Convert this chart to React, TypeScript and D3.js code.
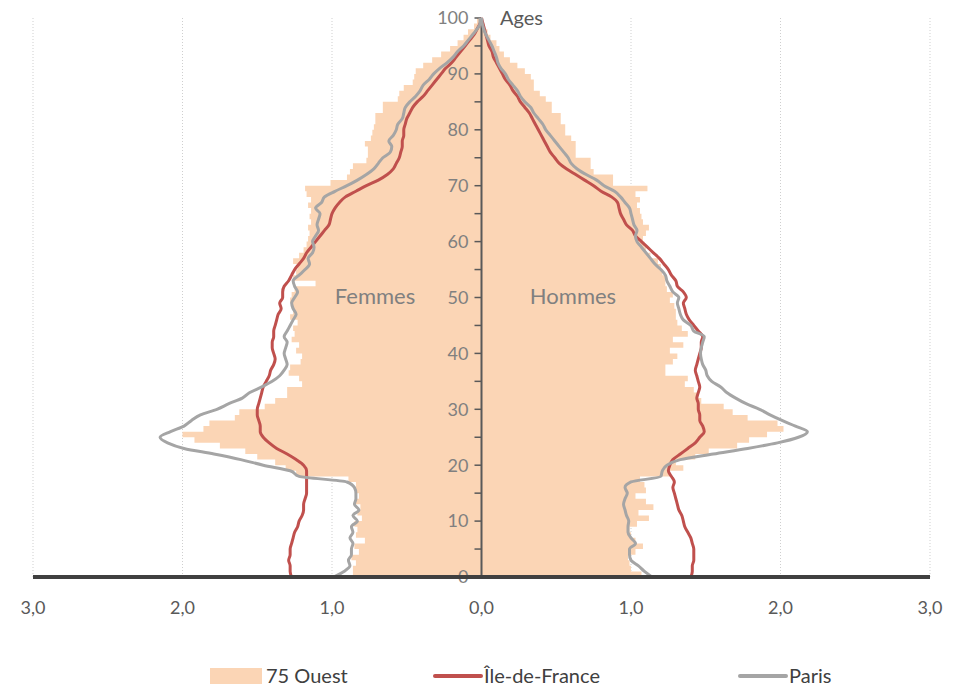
import React, { useEffect, useRef } from 'react';
import * as d3 from 'd3';

// Ages 0..100, one value per year (in % of population)
const ages = d3.range(0, 101);
const xTicks = [-3, -2, -1, 0, 1, 2, 3];
const yTicks = [0, 10, 20, 30, 40, 50, 60, 70, 80, 90, 100];
const yMinorTicks = [5, 15, 25, 35, 45, 55, 65, 75, 85, 95];

const femmes75 = [
  0.86, 0.86, 0.84, 0.87, 0.82, 0.85, 0.78, 0.84, 0.83, 0.85,
  0.80, 0.83, 0.81, 0.84, 0.82, 0.84, 0.84, 0.89, 1.24, 1.31,
  1.38, 1.50, 1.58, 1.75, 1.92, 2.00, 1.86, 1.82, 1.65, 1.62,
  1.45, 1.38, 1.30, 1.30, 1.20, 1.22, 1.29, 1.28, 1.21, 1.20,
  1.24, 1.22, 1.27, 1.25, 1.26, 1.23, 1.28, 1.26, 1.27, 1.28,
  1.27, 1.25, 1.11, 1.26, 1.24, 1.23, 1.26, 1.22, 1.19, 1.17,
  1.16, 1.15, 1.16, 1.14, 1.15, 1.14, 1.16, 1.14, 1.17, 1.18,
  1.01, 0.90, 0.88, 0.86, 0.77, 0.76, 0.76, 0.78, 0.74, 0.73,
  0.72, 0.71, 0.71, 0.66, 0.66, 0.56, 0.55, 0.52, 0.46, 0.45,
  0.44, 0.39, 0.33, 0.27, 0.21, 0.16, 0.12, 0.09, 0.05, 0.03,
  0.02,
];

const hommes75 = [
  1.07, 1.00, 0.99, 0.98, 1.03, 1.08, 1.03, 1.00, 0.99, 1.04,
  1.12, 1.05, 1.15, 1.10, 1.03, 1.10, 1.09, 1.06, 1.26, 1.35,
  1.30, 1.43, 1.52, 1.71, 1.79, 1.91, 2.02, 1.98, 1.78, 1.68,
  1.62, 1.47, 1.45, 1.42, 1.36, 1.38, 1.23, 1.23, 1.28, 1.31,
  1.26, 1.35, 1.28, 1.38, 1.34, 1.31, 1.30, 1.30, 1.29, 1.26,
  1.28, 1.24, 1.23, 1.23, 1.21, 1.20, 1.18, 1.13, 1.10, 1.09,
  1.08, 1.10, 1.12, 1.08, 1.07, 1.06, 1.04, 1.06, 1.03, 1.11,
  0.88, 0.88, 0.75, 0.73, 0.73, 0.63, 0.63, 0.63, 0.60, 0.56,
  0.56, 0.53, 0.53, 0.47, 0.47, 0.43, 0.39, 0.35, 0.35, 0.33,
  0.29, 0.24, 0.19, 0.15, 0.12, 0.10, 0.06, 0.04, 0.02, 0.01,
  0.01,
];

const femmesIdf = [
  1.27, 1.28, 1.28, 1.29, 1.28, 1.28, 1.27, 1.26, 1.25, 1.23,
  1.22, 1.20, 1.19, 1.19, 1.18, 1.17, 1.17, 1.17, 1.17, 1.17,
  1.19, 1.24, 1.30, 1.37, 1.42, 1.46, 1.48, 1.48, 1.49, 1.50,
  1.50, 1.49, 1.48, 1.47, 1.46, 1.44, 1.42, 1.41, 1.39, 1.38,
  1.39, 1.40, 1.40, 1.39, 1.39, 1.38, 1.37, 1.36, 1.34, 1.35,
  1.33, 1.33, 1.32, 1.29, 1.27, 1.25, 1.22, 1.19, 1.17, 1.14,
  1.11, 1.08, 1.05, 1.02, 1.01, 1.00, 0.98, 0.95, 0.91, 0.84,
  0.77, 0.69, 0.63, 0.59, 0.57, 0.55, 0.54, 0.53, 0.53, 0.52,
  0.52, 0.51, 0.50, 0.48, 0.46, 0.43, 0.39, 0.36, 0.33, 0.30,
  0.27, 0.24, 0.20, 0.17, 0.14, 0.11, 0.08, 0.05, 0.03, 0.01,
  0.00,
];

const hommesIdf = [
  1.40, 1.41, 1.41, 1.42, 1.42, 1.42, 1.41, 1.40, 1.38, 1.36,
  1.35, 1.34, 1.32, 1.31, 1.30, 1.29, 1.28, 1.29, 1.27, 1.25,
  1.26, 1.28, 1.33, 1.38, 1.43, 1.46, 1.49, 1.48, 1.46, 1.46,
  1.45, 1.45, 1.44, 1.45, 1.46, 1.45, 1.44, 1.43, 1.44, 1.45,
  1.46, 1.47, 1.47, 1.48, 1.45, 1.42, 1.39, 1.37, 1.36, 1.35,
  1.37, 1.35, 1.31, 1.30, 1.27, 1.25, 1.22, 1.19, 1.15, 1.11,
  1.07, 1.03, 1.01, 0.97, 0.95, 0.93, 0.92, 0.91, 0.87, 0.80,
  0.75, 0.69, 0.63, 0.57, 0.52, 0.49, 0.46, 0.44, 0.42, 0.40,
  0.38, 0.36, 0.34, 0.32, 0.29, 0.26, 0.24, 0.21, 0.19, 0.16,
  0.14, 0.12, 0.10, 0.08, 0.07, 0.05, 0.04, 0.03, 0.02, 0.01,
  0.00,
];

const femmesParis = [
  0.99, 0.92, 0.88, 0.89, 0.87, 0.87, 0.86, 0.88, 0.86, 0.87,
  0.83, 0.86, 0.82, 0.85, 0.84, 0.84, 0.85, 0.90, 1.22, 1.28,
  1.46, 1.61, 1.79, 1.99, 2.10, 2.15, 2.08, 1.99, 1.94, 1.88,
  1.77, 1.69, 1.60, 1.55, 1.47, 1.40, 1.35, 1.32, 1.30, 1.31,
  1.32, 1.31, 1.30, 1.32, 1.30, 1.28, 1.26, 1.24, 1.26, 1.27,
  1.25, 1.23, 1.25, 1.26, 1.22, 1.18, 1.15, 1.16, 1.13, 1.12,
  1.13, 1.11, 1.09, 1.10, 1.09, 1.08, 1.11, 1.07, 1.05, 0.98,
  0.90, 0.83, 0.77, 0.72, 0.69, 0.66, 0.61, 0.60, 0.62, 0.59,
  0.57, 0.56, 0.53, 0.52, 0.51, 0.48, 0.44, 0.41, 0.39, 0.35,
  0.32, 0.28, 0.23, 0.19, 0.16, 0.12, 0.09, 0.06, 0.03, 0.01,
  0.01,
];

const hommesParis = [
  1.14, 1.09, 1.05, 1.00, 0.99, 0.99, 1.03, 1.00, 0.98, 0.98,
  0.985, 0.97, 0.96, 0.95, 0.96, 0.975, 0.96, 1.00, 1.20, 1.21,
  1.24, 1.33, 1.55, 1.78, 1.98, 2.12, 2.18, 2.10, 2.01, 1.93,
  1.86, 1.77, 1.70, 1.64, 1.60, 1.54, 1.51, 1.50, 1.48, 1.47,
  1.465, 1.47, 1.48, 1.49, 1.42, 1.40, 1.35, 1.33, 1.32, 1.31,
  1.32, 1.28, 1.26, 1.24, 1.23, 1.20, 1.16, 1.13, 1.10, 1.07,
  1.04, 1.03, 1.04, 1.02, 1.01, 1.00, 0.99, 0.96, 0.93, 0.89,
  0.82, 0.77, 0.70, 0.64, 0.60, 0.58, 0.55, 0.52, 0.49, 0.46,
  0.43, 0.41, 0.38, 0.35, 0.33, 0.29, 0.26, 0.24, 0.21, 0.18,
  0.16, 0.13, 0.11, 0.10, 0.085, 0.07, 0.05, 0.03, 0.015, 0.005,
  0.00,
];

const legendItems = ['75 Ouest', 'Île-de-France', 'Paris'];

const FONT = 'Lato, "Open Sans", sans-serif';
const BAR_COLOR = '#FBD5B5';
const IDF_COLOR = '#C0504D';
const PARIS_COLOR = '#A5A5A5';

const PopulationPyramid: React.FC = () => {
  const svgRef = useRef<SVGSVGElement>(null);

  useEffect(() => {
    if (!svgRef.current) return;
    const svg = d3.select(svgRef.current);
    svg.selectAll('*').remove();

    const x = d3.scaleLinear().domain([-3, 3]).range([33, 930]);
    const y = d3.scaleLinear().domain([0, 100]).range([577, 18]);

    // Vertical dotted gridlines
    svg.append('g')
      .selectAll('line')
      .data(xTicks.filter(t => t !== 0))
      .enter()
      .append('line')
      .attr('x1', d => x(d))
      .attr('x2', d => x(d))
      .attr('y1', y(100))
      .attr('y2', y(0))
      .attr('stroke', '#cfcfcf')
      .attr('stroke-width', 1)
      .attr('stroke-dasharray', '1,2');

    // Bars (75 Ouest) drawn as stepped areas, one step per year of age
    const barArea = (sign: number) => d3.area<number>()
      .y(a => y(a))
      .x0(x(0))
      .x1(a => x(sign * (sign < 0 ? femmes75[a] : hommes75[a])))
      .curve(d3.curveStepBefore);

    svg.append('path')
      .datum(ages)
      .attr('d', barArea(-1))
      .attr('fill', BAR_COLOR);
    svg.append('path')
      .datum(ages)
      .attr('d', barArea(1))
      .attr('fill', BAR_COLOR);

    // Central age axis
    const axisG = svg.append('g');
    axisG.append('line')
      .attr('x1', x(0)).attr('x2', x(0))
      .attr('y1', y(100)).attr('y2', y(0))
      .attr('stroke', '#595959')
      .attr('stroke-width', 2);
    axisG.selectAll('line.tick')
      .data([...yTicks, ...yMinorTicks])
      .enter()
      .append('line')
      .attr('class', 'tick')
      .attr('x1', x(0) - 7).attr('x2', x(0))
      .attr('y1', d => y(d)).attr('y2', d => y(d))
      .attr('stroke', '#595959')
      .attr('stroke-width', 1.5);
    axisG.selectAll('text')
      .data(yTicks)
      .enter()
      .append('text')
      .attr('x', x(0) - 13)
      .attr('y', d => y(d))
      .attr('dy', '0.35em')
      .attr('text-anchor', 'end')
      .attr('font-family', FONT)
      .attr('font-size', 18)
      .attr('fill', '#808080')
      .text(d => d);

    // Lines
    const sideLine = (values: number[], sign: number) => d3.line<number>()
      .y(a => y(a))
      .x(a => x(sign * values[a]))
      .curve(d3.curveMonotoneY)(ages);

    const series = [
      { f: femmesIdf, h: hommesIdf, color: IDF_COLOR },
      { f: femmesParis, h: hommesParis, color: PARIS_COLOR },
    ];
    series.forEach(s => {
      [-1, 1].forEach(sign => {
        svg.append('path')
          .attr('d', sideLine(sign < 0 ? s.f : s.h, sign))
          .attr('fill', 'none')
          .attr('stroke', s.color)
          .attr('stroke-width', 3)
          .attr('stroke-linejoin', 'round');
      });
    });

    // Bottom value axis
    svg.append('line')
      .attr('x1', x(-3)).attr('x2', x(3))
      .attr('y1', y(0)).attr('y2', y(0))
      .attr('stroke', '#404040')
      .attr('stroke-width', 4);
    svg.append('g')
      .selectAll('text')
      .data(xTicks)
      .enter()
      .append('text')
      .attr('x', d => x(d))
      .attr('y', 614)
      .attr('text-anchor', 'middle')
      .attr('font-family', FONT)
      .attr('font-size', 18)
      .attr('fill', '#595959')
      .text(d => d3.format('.1f')(Math.abs(d)).replace('.', ','));

    // Titles
    svg.append('text')
      .attr('x', 500).attr('y', 18)
      .attr('dy', '0.35em')
      .attr('font-family', FONT)
      .attr('font-size', 20)
      .attr('fill', '#595959')
      .text('Ages');
    svg.append('text')
      .attr('x', 375).attr('y', 296)
      .attr('dy', '0.35em')
      .attr('text-anchor', 'middle')
      .attr('font-family', FONT)
      .attr('font-size', 22)
      .attr('fill', '#808080')
      .text('Femmes');
    svg.append('text')
      .attr('x', 573).attr('y', 296)
      .attr('dy', '0.35em')
      .attr('text-anchor', 'middle')
      .attr('font-family', FONT)
      .attr('font-size', 22)
      .attr('fill', '#808080')
      .text('Hommes');

    // Legend
    const legend = svg.append('g').attr('transform', 'translate(0,676)');
    const legendX = [210, 435, 740];
    legend.append('rect')
      .attr('x', legendX[0]).attr('y', -8)
      .attr('width', 52).attr('height', 16)
      .attr('fill', BAR_COLOR);
    [IDF_COLOR, PARIS_COLOR].forEach((c, i) => {
      legend.append('line')
        .attr('x1', legendX[i + 1]).attr('x2', legendX[i + 1] + 46)
        .attr('y1', 0).attr('y2', 0)
        .attr('stroke', c)
        .attr('stroke-width', 4)
        .attr('stroke-linecap', 'round');
    });
    legend.selectAll('text')
      .data(legendItems)
      .enter()
      .append('text')
      .attr('x', (d, i) => legendX[i] + (i === 0 ? 56 : 49))
      .attr('y', 0)
      .attr('dy', '0.35em')
      .attr('font-family', FONT)
      .attr('font-size', 20)
      .attr('fill', '#404040')
      .text(d => d);
  }, []);

  return (
    <div style={{ position: 'absolute', left: 0, top: 0 }}>
      <svg ref={svgRef} width={960} height={690} style={{ display: 'block' }} />
    </div>
  );
};

export default function App() {
  return <PopulationPyramid />;
}
